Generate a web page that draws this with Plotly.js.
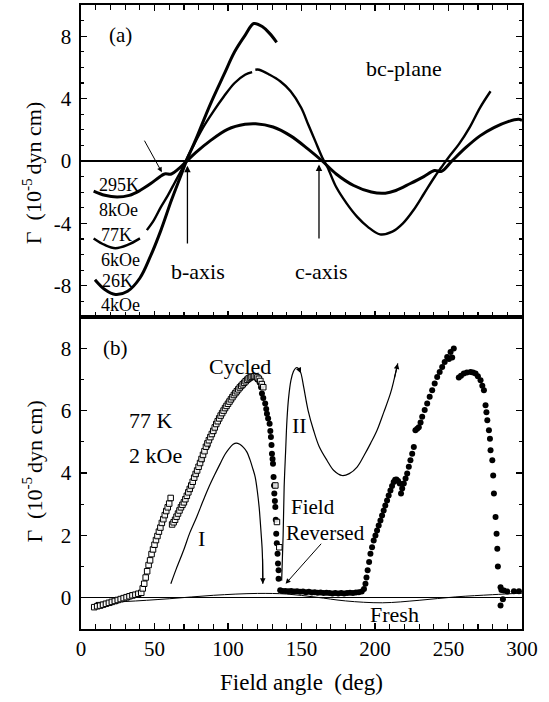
<!DOCTYPE html>
<html>
<head>
<meta charset="utf-8">
<script src="https://cdn.plot.ly/plotly-3.0.1.min.js"></script>
<style>
  html, body { margin: 0; padding: 0; background: #fff; }
  #chart { width: 549px; height: 702px; }
</style>
</head>
<body>
<div id="chart"></div>
<script>
// ---------- Panel (a): torque curves in the bc-plane ----------
const angle295 = [8.6, 16.2, 24.6, 32.9, 40.1, 47.2, 53.2, 56.8, 61.5, 66.3, 71.1, 78.2, 87.8, 99.7, 111.6, 118.8, 130.7, 142.6, 154.5, 164.1, 173.6, 185.5, 197.5, 207, 214.2, 223.7, 233.2, 240.4, 245.2, 252.3, 261.9, 271.4, 280.9, 290.5, 297.6, 300];
const torque295 = [-1.93, -2.20, -2.31, -2.20, -1.89, -1.46, -1.04, -0.83, -0.83, -0.51, -0.08, 0.55, 1.29, 2.03, 2.35, 2.39, 2.18, 1.61, 0.76, 0, -0.83, -1.57, -1.99, -2.06, -1.89, -1.46, -1.00, -0.61, -0.66, 0, 0.87, 1.61, 2.14, 2.52, 2.67, 2.61];

const angle77 = [8.6, 16.2, 23.4, 31.7, 40.1, null, 44.8, 49.6, 54.4, 59.1, 63.9, 68.7, 72.3, 77, 83, 90.2, 97.3, 104.5, 111.6, 116.4, null, 118.6, 121.2, 128.3, 135.5, 142.6, 149.8, 154.5, 159.3, 164.1, 167.7, 173.6, 180.8, 187.9, 195.1, 203.4, 211.8, 219, 226.1, 233.3, 240.4, 245.2, 250, 257.1, 264.3, 271.4, 278.6];
const torque77 = [-4.96, -5.38, -5.59, -5.38, -4.96, null, -4.43, -3.79, -2.94, -2.20, -1.36, -0.51, 0.23, 1.08, 2.14, 3.20, 4.15, 5.00, 5.53, 5.70, null, 5.85, 5.85, 5.53, 5.11, 4.47, 3.41, 2.35, 1.29, 0.23, -0.40, -1.67, -2.73, -3.58, -4.22, -4.70, -4.53, -4.00, -3.16, -2.10, -1.04, -0.40, 0.23, 1.08, 2.14, 3.41, 4.47];

const angle26 = [9.5, 16.2, 23.4, 31.7, 40.1, 47.2, 54.4, 61.5, 67.5, 72.3, 78.2, 87.8, 97.3, 104.5, 111.6, 117.6, 123.5, 128.3, 133.1];
const torque26 = [-7.61, -8.24, -8.56, -8.35, -7.50, -6.12, -4.43, -2.52, -1.04, 0.13, 1.40, 3.60, 5.55, 7.00, 8.05, 8.81, 8.60, 8.18, 7.61];

const yTicksA = [-8, -4, 0, 4, 8];
const yTickTextA = ["-8", "-4", "0", "4", "8"];

// ---------- Panel (b): 77 K, 2 kOe ----------
const cycledSqAngle = [9, 11, 13, 15, 17, 19, 21, 23, 25, 27, 29, 31, 33, 35, 37, 39, 41, 42, 43, 44, 45, 46, 47, 48, 49, 50, 51, 52, 53, 54, 55, 56, 57, 58, 59, 60, 61,
  62, 63, 64, 65, 66, 67, 68, 69, 70, 71, 72, 73, 74, 75, 76, 77, 78, 79, 80, 81, 82, 83, 84,
  85, 86, 87, 88, 89, 90, 91, 92, 93, 94, 95, 96, 97, 98, 99, 100, 101, 102, 103, 104, 105, 106, 107, 108, 109, 110, 111, 112, 113, 114, 115, 116, 117, 118,
  119, 120, 121, 122, 123, 124,
  132.2, 133.3, 134.9];
const cycledSqTorque = [-0.30, -0.27, -0.25, -0.22, -0.19, -0.16, -0.13, -0.10, -0.07, -0.04, -0.01, 0.02, 0.05, 0.08, 0.10, 0.13, 0.16, 0.30, 0.45, 0.65, 0.85, 1.05, 1.20, 1.40, 1.55, 1.70, 1.85, 1.98, 2.12, 2.25, 2.40, 2.52, 2.65, 2.78, 2.90, 3.02, 3.20,
  2.35, 2.42, 2.50, 2.60, 2.70, 2.80, 2.90, 2.98, 3.06, 3.16, 3.27, 3.38, 3.49, 3.60, 3.72, 3.85, 3.97, 4.08, 4.20, 4.32, 4.45, 4.58, 4.70,
  4.84, 4.95, 5.05, 5.15, 5.25, 5.35, 5.46, 5.57, 5.66, 5.75, 5.84, 5.92, 6.00, 6.08, 6.15, 6.22, 6.29, 6.36, 6.43, 6.50, 6.56, 6.62, 6.68, 6.74, 6.79, 6.84, 6.89, 6.94, 6.99, 7.03, 7.06, 7.08, 7.09, 7.10,
  7.09, 7.06, 7.02, 6.95, 6.85, 6.75,
  3.60, 2.43, 1.62];

const cycledDotAngle = [20, 24, 28, 32, 36, 70, 74, 78, 82, 86, 90, 94, 98, 102, 106, 110, 114,
  120, 121.5, 122.5, 123.1, 124, 125.3, 126, 126.5, 127.3, 128.3, 128.8, 129.2, 129.6, 129.9, 130.3, 130.6, 131, 131.3, 131.5, 131.9, 132.2, 132.5, 132.8, 133.2, 133.7, 134, 134.4, 134.4,
  135.5, 137, 139, 141, 143, 145, 147, 149, 151, 153, 155, 157, 159, 161, 163, 165, 167, 169, 171, 173, 175, 177, 179, 181, 183, 185, 187, 189, 191, 192.5,
  193.5, 194.2, 195, 196, 196.9, 198, 199.1, 200.3, 201.4, 202.5, 203.7, 204.8, 205.9, 207, 208.2, 209.3, 210.5, 211.6, 212.7, 213.7, 214.6, 215.7, 216.8, 217.7, 218.5, 219.6, 220.8, 221.9, 223, 224.1, 225.3, 226.4, 227.5, 228.7, 229.8, 231, 232.1, 233.8, 235.5, 237.2, 238.9, 240.6, 242.3, 244, 245.7, 247.4, 249.1, 250.3, 251.4, 252.5, 253.6,
  257, 258.5, 260.4, 262.5, 265, 266.7, 268.4, 270, 271.8, 273, 274.1, 275.2, 275.8, 276.4, 277.5, 278.2, 278.6, 279.8, 280.4, 280.9, 282, 282.7, 283.2, 283.6, 285.4, 286, 287.7, 285.4, 287, 290, 294.5, 297.9];
const cycledDotTorque = [-0.17, -0.11, -0.05, 0.01, 0.07, 3.05, 3.47, 3.95, 4.42, 4.87, 5.32, 5.73, 6.06, 6.35, 6.60, 6.82, 7.00,
  7.00, 6.90, 6.75, 6.55, 6.40, 6.23, 6.05, 5.90, 5.75, 5.58, 5.35, 5.15, 4.90, 4.62, 4.45, 4.30, 3.87, 3.60, 3.34, 3.10, 2.91, 2.50, 2.05, 1.75, 1.41, 1.10, 0.88, 0.61,
  0.24, 0.22, 0.22, 0.21, 0.22, 0.20, 0.21, 0.19, 0.20, 0.18, 0.19, 0.17, 0.18, 0.16, 0.17, 0.15, 0.16, 0.15, 0.14, 0.15, 0.14, 0.15, 0.14, 0.15, 0.16, 0.15, 0.17, 0.18, 0.20, 0.28,
  0.45, 0.65, 0.88, 1.15, 1.41, 1.62, 1.84, 2.00, 2.16, 2.32, 2.48, 2.64, 2.80, 2.96, 3.12, 3.28, 3.44, 3.58, 3.71, 3.78, 3.79, 3.74, 3.66, 3.34, 3.50, 3.66, 3.82, 3.98, 4.20, 4.41, 4.62, 4.83, 5.37, 5.42, 5.47, 5.62, 5.80, 6.02, 6.23, 6.44, 6.65, 6.87, 7.08, 7.24, 7.40, 7.56, 7.72, 7.65, 7.88, 7.70, 7.99,
  7.06, 7.12, 7.19, 7.22, 7.24, 7.22, 7.19, 7.10, 6.97, 6.80, 6.65, 6.17, 5.95, 5.69, 5.37, 5.10, 4.73, 4.41, 3.92, 3.34, 2.59, 2.05, 1.57, 1.00, 0.34, 0.25, 0.23, -0.25, -0.05, 0.20, 0.21, 0.21];

const freshAngle = [10, 30, 60, 90, 120, 140, 160, 180, 205, 230, 255, 280, 300];
const freshTorque = [-0.15, -0.12, -0.03, 0.08, 0.14, 0.12, 0.02, -0.10, -0.16, -0.08, 0.03, 0.10, 0.15];

// guide curves I and II
const guideIAngle = [61.1, 65, 70, 74, 78.7, 83, 87, 91, 94.7, 98, 101, 103.5, 105.6, 108, 110.5, 112.9, 115, 117, 118.5, 120, 121.2, 121.9, 122.7, 123.2, 123.5, 123.7];
const guideITorque = [0.45, 0.95, 1.55, 2.08, 2.59, 3.10, 3.55, 3.95, 4.30, 4.60, 4.80, 4.92, 4.96, 4.92, 4.82, 4.67, 4.42, 4.12, 3.87, 3.40, 2.90, 2.48, 1.95, 1.60, 1.20, 0.45];
const guideIIAngle = [136.5, 137.5, 138.2, 139.2, 140.1, 141.2, 142.8, 144.5, 146, 146.9, 148.3, 149.6, 151.5, 154.5, 158.2, 162, 167.4, 172, 177.6, 182.5, 187.8, 193, 197, 201.4, 206, 210.5, 213, 215.5];
const guideIITorque = [0.55, 2.00, 3.55, 4.70, 5.69, 6.40, 6.97, 7.25, 7.36, 7.38, 7.33, 7.20, 6.75, 6.00, 5.37, 4.85, 4.40, 4.08, 3.92, 3.98, 4.19, 4.60, 4.95, 5.37, 5.95, 6.55, 7.00, 7.51];

const yTicksB = [0, 2, 4, 6, 8];
const xTicks = [0, 50, 100, 150, 200, 250, 300];

const FONT = "Liberation Serif";

const traces = [
  // panel (a)
  {x: angle295, y: torque295, xaxis: "x2", yaxis: "y2", mode: "lines", line: {color: "#000", width: 3, shape: "spline"}, hoverinfo: "skip"},
  {x: angle77, y: torque77, xaxis: "x2", yaxis: "y2", mode: "lines", line: {color: "#000", width: 2.4, shape: "spline"}, connectgaps: false, hoverinfo: "skip"},
  {x: angle26, y: torque26, xaxis: "x2", yaxis: "y2", mode: "lines", line: {color: "#000", width: 3, shape: "spline"}, hoverinfo: "skip"},
  // panel (b)
  {x: freshAngle, y: freshTorque, xaxis: "x", yaxis: "y", mode: "lines", line: {color: "#000", width: 1, shape: "spline"}, hoverinfo: "skip"},
  {x: guideIAngle, y: guideITorque, xaxis: "x", yaxis: "y", mode: "lines", line: {color: "#000", width: 1.2, shape: "spline"}, hoverinfo: "skip"},
  {x: guideIIAngle, y: guideIITorque, xaxis: "x", yaxis: "y", mode: "lines", line: {color: "#000", width: 1.2, shape: "spline"}, hoverinfo: "skip"},
  {x: cycledDotAngle, y: cycledDotTorque, xaxis: "x", yaxis: "y", mode: "markers", marker: {symbol: "circle", size: 6, color: "#000"}, hoverinfo: "skip"},
  {x: cycledSqAngle, y: cycledSqTorque, xaxis: "x", yaxis: "y", mode: "markers", marker: {symbol: "square", size: 5.5, color: "rgba(255,255,255,0.85)", line: {color: "#000", width: 1}}, hoverinfo: "skip"}
];

const baseAxis = {
  showline: true, linecolor: "#000", linewidth: 1.6,
  ticks: "inside", ticklen: 6, tickwidth: 1.2, tickcolor: "#000",
  showgrid: false, zeroline: false,
  tickfont: {family: FONT, size: 21, color: "#000"}
};

function txt(text, x, y, axes, size, extra) {
  return Object.assign({
    text: text, x: x, y: y, xref: axes[0], yref: axes[1], showarrow: false,
    font: {family: FONT, size: size, color: "#000"}, xanchor: "center", yanchor: "middle"
  }, extra || {});
}
function arrow(hx, hy, tx, ty, axes, w) {
  return {
    text: "", x: hx, y: hy, ax: tx, ay: ty, xref: axes[0], yref: axes[1], axref: axes[0], ayref: axes[1],
    showarrow: true, arrowhead: 2, arrowsize: 1, arrowwidth: w, arrowcolor: "#000", standoff: 0
  };
}

const A = ["x2", "y2"], B = ["x", "y"];

const annotations = [
  txt("(a)", 27, 8.1, A, 21),
  txt("bc-plane", 219.6, 5.94, A, 22),
  txt("295K", 25.9, -1.57, A, 18),
  txt("8kOe", 25.2, -3.16, A, 18),
  txt("77K", 24.1, -4.75, A, 18),
  txt("6kOe", 26.6, -6.34, A, 18),
  txt("26K", 24.5, -7.72, A, 18),
  txt("4kOe", 26.6, -9.2, A, 18),
  txt("b-axis", 79.6, -7.08, A, 22),
  txt("c-axis", 163.7, -7.08, A, 22),
  arrow(72.4, -0.3, 72.4, -5.38, A, 1.3),
  arrow(161.9, -0.22, 161.9, -5.06, A, 1.3),
  arrow(55, -0.72, 42.6, 1.4, A, 1),

  txt("(b)", 23.5, 8.0, B, 21),
  txt("Cycled", 108.2, 7.4, B, 22),
  txt("77 K", 47.4, 5.69, B, 22),
  txt("2 kOe", 51, 4.57, B, 22),
  txt("I", 82, 1.89, B, 22),
  txt("II", 148.8, 5.53, B, 22),
  txt("Field", 141.4, 2.92, B, 21, {xanchor: "left"}),
  txt("Reversed", 137.8, 2.08, B, 21, {xanchor: "left"}),
  txt("Fresh", 213.1, -0.54, B, 22),
  arrow(139.2, 0.45, 164.3, 1.78, B, 1),
  arrow(123.7, 0.45, 123.5, 1.3, B, 1.1),
  arrow(149.6, 7.2, 148.3, 7.33, B, 1.1),
  arrow(215.5, 7.51, 213, 7.0, B, 1.1),

  // axis titles
  txt("Γ  (10<sup>-5 </sup>dyn cm)", -0.111, 0.7306, ["paper", "paper"], 22, {textangle: -90}),
  txt("Γ  (10<sup>-5 </sup>dyn cm)", -0.111, 0.2523, ["paper", "paper"], 22, {textangle: -90}),
  txt("Field angle  (deg)", 0.5, -0.0865, ["paper", "paper"], 23)
];

const layout = {
  width: 549, height: 702,
  margin: {l: 81, r: 27, t: 5, b: 73},
  paper_bgcolor: "#fff", plot_bgcolor: "#fff",
  showlegend: false,
  font: {family: FONT, color: "#000"},
  xaxis: Object.assign({}, baseAxis, {
    domain: [0, 1], range: [0, 300], anchor: "y",
    tickmode: "array", tickvals: xTicks, mirror: true,
    minor: {dtick: 10, tick0: 0, ticks: "inside", ticklen: 5, tickwidth: 1.2, tickcolor: "#000"}
  }),
  xaxis2: Object.assign({}, baseAxis, {
    domain: [0, 1], range: [0, 300], anchor: "y2", matches: "x",
    tickmode: "array", tickvals: xTicks, showticklabels: false, mirror: "allticks",
    minor: {dtick: 10, tick0: 0, ticks: "inside", ticklen: 5, tickwidth: 1.2, tickcolor: "#000"}
  }),
  yaxis: Object.assign({}, baseAxis, {
    domain: [0, 0.5], range: [-1, 9], anchor: "x",
    tickmode: "array", tickvals: yTicksB, mirror: "allticks", ticklabelstandoff: 4,
    zeroline: true, zerolinecolor: "#000", zerolinewidth: 1,
    minor: {dtick: 1, tick0: 0, ticks: "inside", ticklen: 3, tickwidth: 1.2, tickcolor: "#000"}
  }),
  yaxis2: Object.assign({}, baseAxis, {
    domain: [0.5, 1], range: [-10, 10], anchor: "x2",
    tickmode: "array", tickvals: yTicksA, ticktext: yTickTextA, mirror: "allticks", ticklabelstandoff: 4,
    zeroline: true, zerolinecolor: "#000", zerolinewidth: 2,
    minor: {dtick: 1, tick0: 0, ticks: "inside", ticklen: 3, tickwidth: 1.2, tickcolor: "#000"}
  }),
  annotations: annotations
};

Plotly.newPlot("chart", traces, layout, {staticPlot: true, displayModeBar: false});
</script>
</body>
</html>
